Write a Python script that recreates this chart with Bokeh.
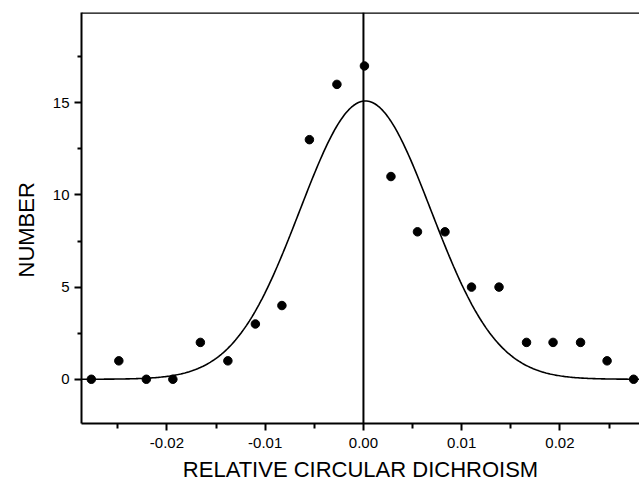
import math
from bokeh.plotting import figure
from bokeh.models import Span, Title, FixedTicker, PrintfTickFormatter, Range1d, ColumnDataSource
from bokeh.embed import file_html
from bokeh.resources import INLINE

# Data
x_vals = [-0.0277, -0.0249, -0.0221, -0.0194, -0.0166, -0.0138, -0.0110, -0.0083,
          -0.0055, -0.0027, 0.0001, 0.0028, 0.0055, 0.0083, 0.0110, 0.0138,
          0.0166, 0.0193, 0.0221, 0.0248, 0.0275]
counts = [0, 1, 0, 0, 2, 1, 3, 4, 13, 16, 17, 11, 8, 8, 5, 5, 2, 2, 2, 1, 0]

# Gaussian fit parameters
fit_amp = 15.1
fit_center = 0.0002
fit_sigma = 0.00668

x_ticks = [-0.02, -0.01, 0.0, 0.01, 0.02]
x_minor = [-0.025, -0.015, -0.005, 0.005, 0.015, 0.025]
y_ticks = [0, 5, 10, 15]
y_minor = [2.5, 7.5, 12.5, 17.5]

x_title = "RELATIVE CIRCULAR DICHROISM"
y_title = "NUMBER"

X0, X1 = -0.0287, 0.0281
Y0, Y1 = -2.4, 19.9

FONT = "Liberation Sans"

p = figure(width=639, height=485, x_range=Range1d(X0, X1), y_range=Range1d(Y0, Y1),
           output_backend="svg", toolbar_location=None,
           min_border_left=79, min_border_top=12, min_border_right=0, min_border_bottom=62)
p.outline_line_color = None
p.grid.visible = False
p.background_fill_color = "white"
p.border_fill_color = "white"

# fit curve
n = 400
cx = [X0 + (X1 - X0) * i / (n - 1) for i in range(n)]
cy = [fit_amp * math.exp(-0.5 * ((v - fit_center) / fit_sigma) ** 2) for v in cx]
p.line(cx, cy, line_color="black", line_width=1.6)

# zero line and top border
p.add_layout(Span(location=0, dimension="height", line_color="black", line_width=2))
p.add_layout(Span(location=Y1, dimension="width", line_color="black", line_width=2.5))

src = ColumnDataSource(dict(x=x_vals, y=counts))
p.scatter("x", "y", source=src, size=8.5, fill_color="black", line_color="black")

for ax in (p.xaxis[0], p.yaxis[0]):
    ax.axis_line_width = 2
    ax.axis_line_color = "black"
    ax.major_tick_line_width = 2
    ax.minor_tick_line_width = 2
    ax.major_tick_line_color = "black"
    ax.minor_tick_line_color = "black"
    ax.major_tick_in = 0
    ax.minor_tick_in = 0
    ax.major_label_text_font = FONT
    ax.major_label_text_font_size = "15px"
    ax.major_label_text_color = "black"

p.xaxis[0].ticker = FixedTicker(ticks=x_ticks, minor_ticks=x_minor)
p.xaxis[0].formatter = PrintfTickFormatter(format="%.2f")
p.xaxis[0].major_tick_out = 7
p.xaxis[0].minor_tick_out = 5
p.xaxis[0].major_label_standoff = 7
p.xaxis[0].axis_label = x_title
p.xaxis[0].axis_label_text_font = FONT
p.xaxis[0].axis_label_text_font_size = "22px"
p.xaxis[0].axis_label_text_font_style = "normal"
p.xaxis[0].axis_label_text_color = "black"
p.xaxis[0].axis_label_standoff = 6

p.yaxis[0].ticker = FixedTicker(ticks=y_ticks, minor_ticks=y_minor)
p.yaxis[0].formatter = PrintfTickFormatter(format="%d")
p.yaxis[0].major_tick_out = 7
p.yaxis[0].minor_tick_out = 4
p.yaxis[0].major_label_standoff = 5

p.add_layout(Title(text=y_title, align="left", offset=146, standoff=22,
                   text_font=FONT, text_font_size="22px", text_font_style="normal",
                   text_color="black"), "left")

open("out.html", "w").write(file_html(p, INLINE))
